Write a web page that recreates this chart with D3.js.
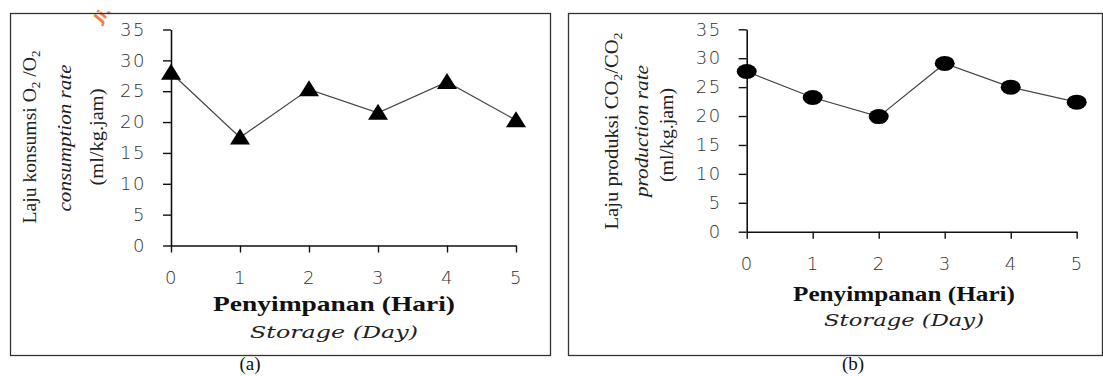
<!DOCTYPE html>
<html><head><meta charset="utf-8">
<script src="https://cdn.jsdelivr.net/npm/d3@7"></script>
<style>body{margin:0;background:#fff}svg{display:block}</style>
</head><body>
<svg id="c" width="1103" height="376"></svg>
<script>
const days = [0, 1, 2, 3, 4, 5];
const o2Consumption = [28.0, 17.5, 25.3, 21.5, 26.5, 20.3];
const co2Production = [27.7, 23.2, 19.9, 29.1, 25.0, 22.4];
const yTicks = [0, 5, 10, 15, 20, 25, 30, 35];
const xTitle = "Penyimpanan (Hari)";
const xSubtitle = "Storage (Day)";

const svg = d3.select("#c");

// watermark fragment
svg.append("text").attr("transform", "translate(101,24) rotate(-50)")
  .attr("font-family", "DejaVu Sans").attr("font-size", 15).attr("font-weight", "bold")
  .attr("fill", "#f47b4a").text("Ji.");

const panels = [
  {box:[10,13,540,342], x0:171, x5:516, yBottom:245.5, yTop:29.5, values:o2Consumption, marker:"triangle",
   yt:[{x:30,len:173,c:137,parts:[["Laju konsumsi O",""],["2","sub"],[" /O",""],["2","sub"]],italic:false},
       {x:65,len:147,c:138,parts:[["consumption rate",""]],italic:true},
       {x:97,len:97,c:137,parts:[["(ml/kg.jam)",""]],italic:false}],
   tickY:278, titleY:311, subY:338, titleX:334, titleLen:242, subLen:168, label:"(a)", labelX:250},
  {box:[568,13,534,342], x0:746.7, x5:1076.7, yBottom:231.7, yTop:29.3, values:co2Production, marker:"circle",
   yt:[{x:612,len:197,c:131,parts:[["Laju produksi CO",""],["2","sub"],["/CO",""],["2","sub"]],italic:false},
       {x:642,len:132,c:131,parts:[["production rate",""]],italic:true},
       {x:667,len:94,c:135,parts:[["(ml/kg.jam)",""]],italic:false}],
   tickY:264, titleY:301, subY:326, titleX:904, titleLen:222, subLen:160, label:"(b)", labelX:853}
];

panels.forEach(p => {
  svg.append("rect").attr("x", p.box[0]+0.5).attr("y", p.box[1]+0.5)
    .attr("width", p.box[2]).attr("height", p.box[3])
    .attr("fill", "none").attr("stroke", "#333").attr("stroke-width", 1.3);

  const x = d3.scaleLinear().domain([0, 5]).range([p.x0, p.x5]);
  const y = d3.scaleLinear().domain([0, 35]).range([p.yBottom, p.yTop]);

  const yAxis = svg.append("g").attr("transform", `translate(${p.x0},0)`)
    .call(d3.axisLeft(y).tickValues(yTicks).tickFormat(d3.format("d")).tickSize(8).tickPadding(17).tickSizeOuter(0));
  const xAxis = svg.append("g").attr("transform", `translate(0,${p.yBottom})`)
    .call(d3.axisBottom(x).tickValues(days).tickFormat(d3.format("d")).tickSize(7).tickPadding(20).tickSizeOuter(0));
  [xAxis, yAxis].forEach(g => {
    g.select(".domain").attr("stroke", "#111").attr("stroke-width", 1.6);
    g.selectAll(".tick line").attr("stroke", "#111").attr("stroke-width", 1.4);
    g.selectAll(".tick text").attr("font-family", "DejaVu Sans").attr("font-size", 18)
      .attr("font-weight", 300).attr("fill", "#333").attr("letter-spacing", 1.5);
  });
  xAxis.selectAll(".tick text").attr("dy", "0.35em").attr("y", p.tickY - p.yBottom);

  svg.append("path").datum(p.values)
    .attr("d", d3.line().x((d,i) => x(days[i])).y(d => y(d)))
    .attr("fill", "none").attr("stroke", "#444").attr("stroke-width", 1.2);

  const m = svg.append("g").selectAll("g").data(p.values).join("g")
    .attr("transform", (d,i) => `translate(${x(days[i])},${y(d)})`);
  if (p.marker === "triangle") {
    m.append("path").attr("d", "M0,-9 L10,7 L-10,7 Z").attr("fill", "#000");
  } else {
    m.append("ellipse").attr("rx", 10).attr("ry", 7.5).attr("fill", "#000");
  }

  p.yt.forEach(t => {
    const tx = svg.append("text")
      .attr("transform", `translate(${t.x},${t.c}) rotate(-90)`)
      .attr("text-anchor", "middle").attr("dy", "0.35em")
      .attr("font-family", "Liberation Serif").attr("font-size", 18)
      .attr("font-style", t.italic ? "italic" : "normal").attr("fill", "#222")
      .attr("textLength", t.len).attr("lengthAdjust", "spacingAndGlyphs");
    t.parts.forEach(pt => {
      const ts = tx.append("tspan").text(pt[0]);
      if (pt[1] === "sub") ts.attr("font-size", 12).attr("dy", 4);
      else if (tx.selectAll("tspan").size() > 1) ts.attr("dy", -4);
    });
  });

  svg.append("text").attr("x", p.titleX).attr("y", p.titleY)
    .attr("text-anchor", "middle").attr("font-family", "Liberation Serif")
    .attr("font-weight", "bold").attr("font-size", 21).attr("fill", "#111")
    .attr("textLength", p.titleLen).attr("lengthAdjust", "spacingAndGlyphs").text(xTitle);
  svg.append("text").attr("x", p.titleX).attr("y", p.subY)
    .attr("text-anchor", "middle").attr("font-family", "DejaVu Serif")
    .attr("font-style", "italic").attr("font-size", 17).attr("fill", "#222")
    .attr("textLength", p.subLen).attr("lengthAdjust", "spacingAndGlyphs").text(xSubtitle);
  svg.append("text").attr("x", p.labelX).attr("y", 370)
    .attr("text-anchor", "middle").attr("font-family", "Liberation Serif")
    .attr("font-size", 19).attr("fill", "#111").text(p.label);
});
</script>
</body></html>
